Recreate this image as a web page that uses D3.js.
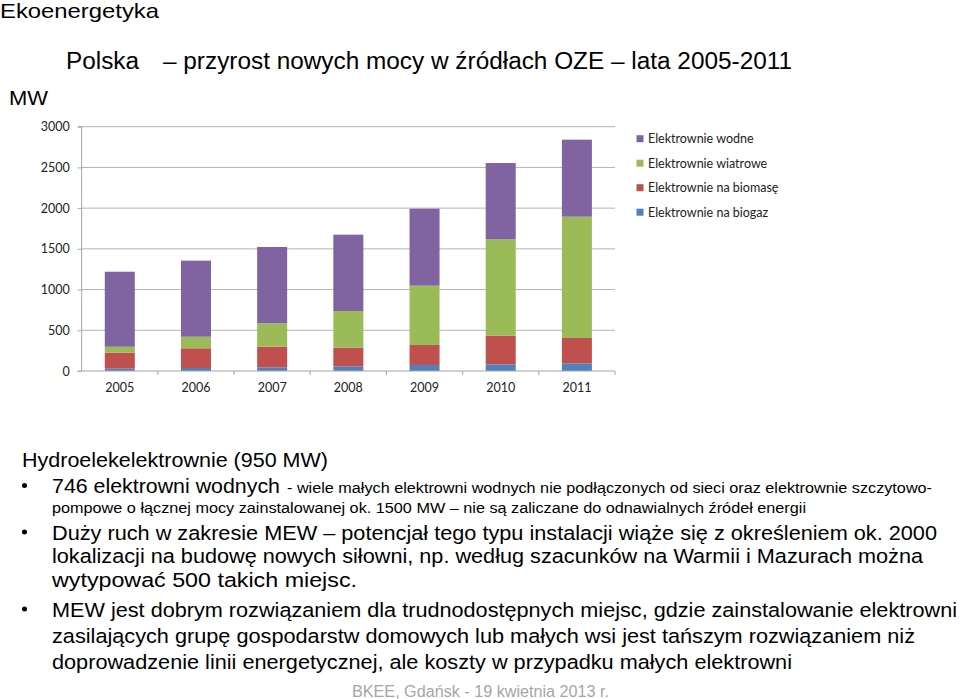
<!DOCTYPE html>
<html>
<head>
<meta charset="utf-8">
<script src="https://cdn.jsdelivr.net/npm/d3@7"></script>
<style>
  html, body { margin: 0; padding: 0; background: #fff; }
  svg { display: block; }
</style>
</head>
<body>
<div id="chart"></div>
<script>
// ---- data ----
const years = ["2005", "2006", "2007", "2008", "2009", "2010", "2011"];
const seriesNames = ["Elektrownie na biogaz", "Elektrownie na biomasę", "Elektrownie wiatrowe", "Elektrownie wodne"];
const biogaz  = [33, 37, 45, 57, 74, 82, 94];
const biomasa = [192, 242, 253, 229, 245, 352, 311];
const wiatr   = [73, 142, 288, 451, 729, 1183, 1490];
const wodne   = [921, 934, 937, 937, 945, 937, 946];
const yTicks  = [0, 500, 1000, 1500, 2000, 2500, 3000];
const colors  = ["#4F81BD", "#C0504D", "#9BBB59", "#8064A2"];

const W = 960, H = 699;
const svg = d3.select("#chart").append("svg").attr("width", W).attr("height", H)
  .style("background", "#fff");

// ---- titles ----
const SANS = "'Liberation Sans', Arial, sans-serif";
const CAL = "Lato, 'Open Sans', sans-serif";
function txt(x, y, s, size, opts = {}) {
  const t = svg.append("text").attr("x", x).attr("y", y).text(s)
    .style("font-family", opts.family || SANS)
    .style("font-size", size + "px")
    .attr("fill", opts.fill || "#000");
  if (opts.width) t.attr("textLength", opts.width).attr("lengthAdjust", "spacingAndGlyphs");
  if (opts.anchor) t.attr("text-anchor", opts.anchor);
  return t;
}
txt(0, 17.5, "Ekoenergetyka", 21, { width: 159 });
txt(66, 68.5, "Polska", 23, { width: 73 });
txt(163, 68.5, "– przyrost nowych mocy w źródłach OZE – lata 2005-2011", 23, { width: 629 });
txt(9, 105, "MW", 21, { width: 39 });

// ---- chart ----
const x = d3.scaleBand().domain(years).range([81.7, 615]).paddingInner(0.606).paddingOuter(0.303);
const y = d3.scaleLinear().domain([0, 3000]).range([371, 126.7]);

const gridG = svg.append("g");
gridG.selectAll("line").data(yTicks.slice(1)).join("line")
  .attr("x1", 81.7).attr("x2", 615)
  .attr("y1", d => y(d)).attr("y2", d => y(d))
  .attr("stroke", "#b4b4b4").attr("stroke-width", 1);

const table = years.map((yr, i) => ({ year: yr, v: [biogaz[i], biomasa[i], wiatr[i], wodne[i]] }));
const stack = d3.stack().keys([0, 1, 2, 3]).value((d, k) => d.v[k]);
const layers = stack(table);

svg.append("g").selectAll("g").data(layers).join("g")
  .attr("fill", (d, i) => colors[i])
  .selectAll("rect").data(d => d).join("rect")
  .attr("x", d => x(d.data.year))
  .attr("width", x.bandwidth())
  .attr("y", d => y(d[1]))
  .attr("height", d => y(d[0]) - y(d[1]));

// y axis
const yAxis = d3.axisLeft(y).tickValues(yTicks).tickSize(4).tickPadding(8).tickFormat(d3.format("d"));
const yg = svg.append("g").attr("transform", "translate(81.7,0)").call(yAxis);
yg.select(".domain").attr("stroke", "#a6a6a6").attr("d", `M-4,${y(3000)}H0V${y(0)}H-4`);
yg.selectAll(".tick line").attr("stroke", "#a6a6a6");
yg.selectAll(".tick text").style("font-family", CAL).style("font-size", "12.5px").attr("fill", "#222");

// x axis
const xAxis = d3.axisBottom(x).tickSize(0).tickPadding(12.5);
const xg = svg.append("g").attr("transform", `translate(0,${y(0)})`).call(xAxis);
xg.select(".domain").attr("stroke", "#a6a6a6").attr("d", `M81.7,0H615`);
xg.selectAll(".tick text").style("font-family", CAL).style("font-size", "12.5px").attr("fill", "#222");
// category separators
const bounds = years.map((d, i) => x(d) - x.step() * x.paddingInner() / 2 + x.step());
svg.append("g").selectAll("line").data(bounds).join("line")
  .attr("x1", d => d).attr("x2", d => d)
  .attr("y1", y(0)).attr("y2", y(0) + 4)
  .attr("stroke", "#a6a6a6");

// legend
const legendOrder = [3, 2, 1, 0];
const lg = svg.append("g");
legendOrder.forEach((k, i) => {
  const cy = 138.7 + i * 24.5;
  lg.append("rect").attr("x", 636.5).attr("y", cy - 3.5).attr("width", 7).attr("height", 7).attr("fill", colors[k]);
  lg.append("text").attr("x", 648).attr("y", cy + 4.3).text(seriesNames[k])
    .style("font-family", CAL).style("font-size", "12.5px").attr("fill", "#222");
});

// ---- body text ----
function bullet(yc) {
  svg.append("circle").attr("cx", 24.5).attr("cy", yc).attr("r", 2.5).attr("fill", "#000");
}
txt(22, 466.7, "Hydroelekelektrownie (950 MW)", 20, { width: 306 });
bullet(485.5);
txt(52, 492.7, "746 elektrowni wodnych", 21, { width: 228 });
txt(287, 492.5, "- wiele małych elektrowni wodnych nie podłączonych od sieci oraz elektrownie szczytowo-", 14, { width: 645 });
txt(52, 512.7, "pompowe o łącznej mocy zainstalowanej ok. 1500 MW – nie są zaliczane do odnawialnych źródeł energii", 14, { width: 754 });
bullet(532);
txt(52, 539.5, "Duży ruch w zakresie MEW – potencjał tego typu instalacji wiąże się z określeniem ok. 2000", 20.5, { width: 885 });
txt(52, 563.3, "lokalizacji na budowę nowych siłowni, np. według szacunków na Warmii i Mazurach można", 20.5, { width: 871 });
txt(52, 587, "wytypować 500 takich miejsc.", 20.5, { width: 305 });
bullet(609);
txt(52, 616.5, "MEW jest dobrym rozwiązaniem dla trudnodostępnych miejsc, gdzie zainstalowanie elektrowni", 20.5, { width: 905 });
txt(52, 642.5, "zasilających grupę gospodarstw domowych lub małych wsi jest tańszym rozwiązaniem niż", 20.5, { width: 863 });
txt(52, 668.5, "doprowadzenie linii energetycznej, ale koszty w przypadku małych elektrowni", 20.5, { width: 740 });
txt(352, 697, "BKEE, Gdańsk - 19 kwietnia 2013 r.", 16, { width: 257, fill: "#a6a6a6" });
</script>
</body>
</html>
